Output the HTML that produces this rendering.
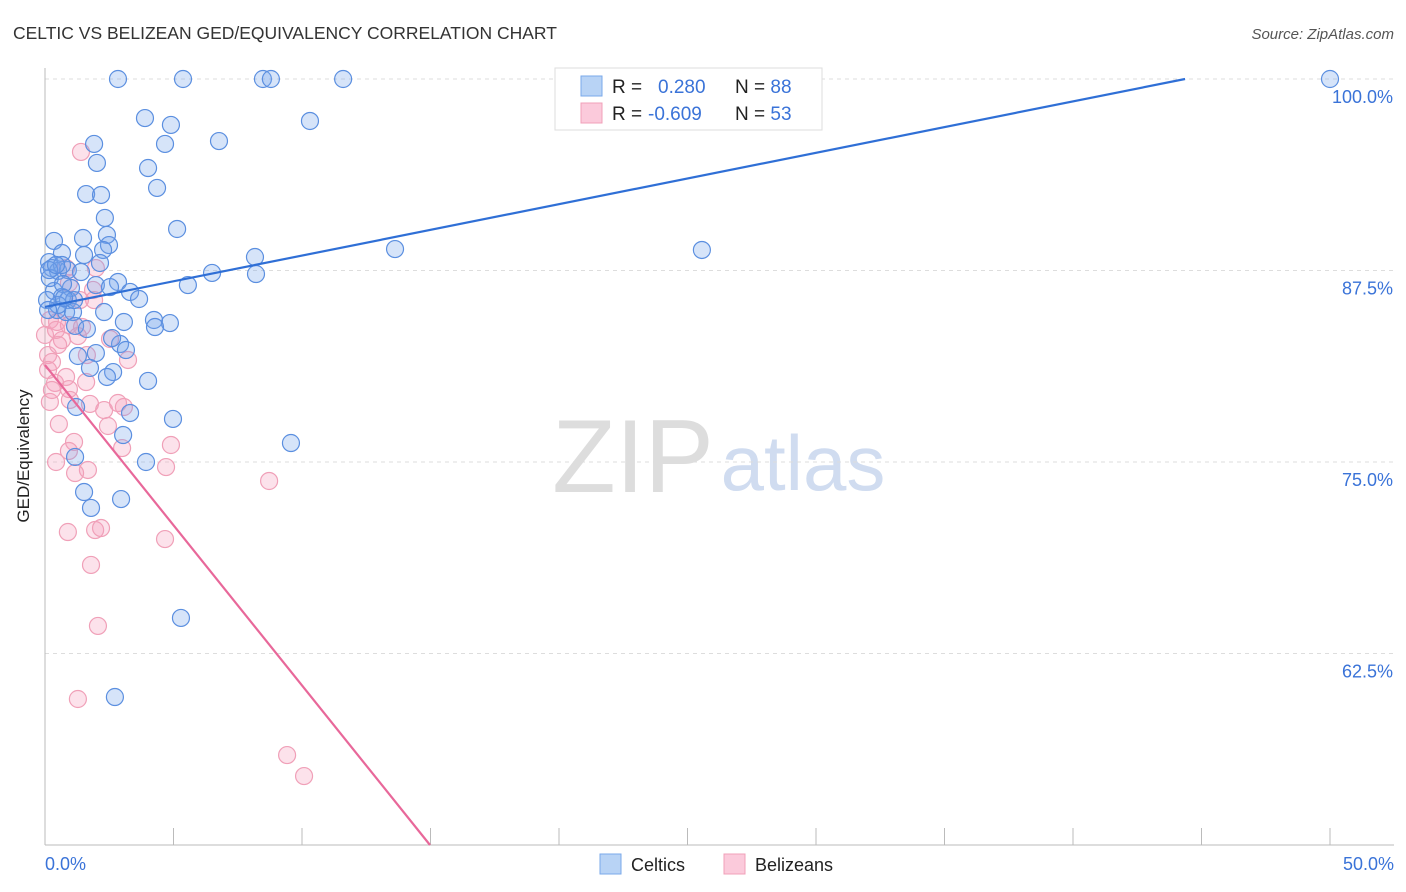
<!DOCTYPE html>
<html><head><meta charset="utf-8">
<style>
body{margin:0;background:#fff;font-family:"Liberation Sans",sans-serif;}
#wrap{position:relative;width:1406px;height:892px;overflow:hidden;}
svg text{font-family:"Liberation Sans",sans-serif;}
</style></head>
<body>
<div id="wrap">
<svg id="chart" width="1406" height="892">
  <text x="13" y="39" font-size="17.5" fill="#333">CELTIC VS BELIZEAN GED/EQUIVALENCY CORRELATION CHART</text>
  <text x="1394" y="39" font-size="15" fill="#555" font-style="italic" text-anchor="end">Source: ZipAtlas.com</text>
  <g>
    <text x="633" y="492" font-size="104" fill="#ddd" font-family="Liberation Serif" text-anchor="middle">ZIP</text>
    <text x="803" y="490" font-size="78" fill="#d0dcf0" text-anchor="middle">atlas</text>
  </g>
  <g id="grid"></g>
  <g id="axes"></g>
  <g id="points"></g>
  <g id="lines"></g>
  <text x="29" y="456" font-size="17" fill="#222" text-anchor="middle" transform="rotate(-90 29 456)">GED/Equivalency</text>
  <text x="45" y="870" font-size="18" fill="#3a73d8">0.0%</text>
  <text x="1394" y="870" font-size="18" fill="#3a73d8" text-anchor="end">50.0%</text>
  <g>
    <rect x="555" y="68" width="267" height="62" fill="#fff" stroke="#ddd"/>
    <rect x="581" y="76" width="21" height="20" fill="#b8d3f5" stroke="#7aa8ea"/>
    <rect x="581" y="103" width="21" height="20" fill="#fbcadb" stroke="#f0a0b8"/>
    <text x="612" y="93" font-size="19" fill="#222">R = <tspan x="658" fill="#3a73d8">0.280</tspan><tspan x="735" fill="#222">N = </tspan><tspan fill="#3a73d8">88</tspan></text>
    <text x="612" y="120" font-size="19" fill="#222">R = <tspan x="648" fill="#3a73d8">-0.609</tspan><tspan x="735" fill="#222">N = </tspan><tspan fill="#3a73d8">53</tspan></text>
  </g>
  <g>
    <rect x="600" y="854" width="21" height="20" fill="#b8d3f5" stroke="#7aa8ea"/>
    <text x="631" y="871" font-size="18" fill="#222">Celtics</text>
    <rect x="724" y="854" width="21" height="20" fill="#fbcadb" stroke="#f0a0b8"/>
    <text x="755" y="871" font-size="18" fill="#222">Belizeans</text>
  </g>
</svg>
</div>
<script>
const yTicks = [100, 87.5, 75, 62.5];
const yTickLabels = ["100.0%", "87.5%", "75.0%", "62.5%"];
const xTickValues = [0,5,10,15,20,25,30,35,40,45,50];
const celticsX = [2.84,5.37,8.48,8.79,11.6,50,3.89,4.90,10.31,1.91,4.67,6.77,2.02,4.01,4.36,1.60,2.18,2.33,5.14,0.35,1.48,2.41,2.49,2.26,0.66,1.52,13.62,25.56,8.17,0.16,0.27,2.14,0.51,0.89,1.40,6.50,8.21,2.84,1.98,2.53,5.56,0.35,1.01,3.31,0.66,0.89,3.66,0.47,0.82,1.09,2.30,3.07,4.24,4.86,4.28,1.17,1.63,2.92,3.15,1.28,1.98,2.61,2.65,1.75,2.41,4.01,1.21,3.31,4.98,3.04,9.57,3.93,1.17,1.52,2.96,1.79,5.29,2.72,0.19,0.66,1.13,0.70,0.51,0.08,0.16,0.43,0.74,0.12];
const celticsY = [100,100,100,100,100,100,97.45,97.0,97.26,95.76,95.76,95.95,94.52,94.19,92.89,92.49,92.43,90.93,90.21,89.43,89.62,89.82,89.16,88.84,88.64,88.51,88.90,88.84,88.38,88.05,87.66,87.99,87.47,87.53,87.40,87.34,87.27,86.75,86.55,86.42,86.55,86.16,86.36,86.10,85.77,85.57,85.64,84.92,84.79,84.79,84.79,84.14,84.27,84.07,83.81,83.88,83.68,82.70,82.31,81.92,82.11,83.09,80.87,81.14,80.55,80.29,78.59,78.20,77.81,76.76,76.24,75.0,75.33,73.04,72.58,72.0,64.82,59.66,87.01,87.86,85.57,86.62,85.25,85.57,87.53,87.86,85.70,84.92];
const belizeansX = [1.40,0.82,0.93,1.87,1.91,0.19,0.47,0.93,1.44,1.28,2.53,3.23,0.12,0.27,0.39,0.82,0.93,1.60,0.19,0.54,1.75,2.30,2.84,3.07,2.45,3.00,1.13,0.93,4.90,1.67,1.17,0.43,4.71,8.72,0.89,1.95,2.18,4.67,1.79,2.06,1.28,9.42,10.08,0,0.12,1.36,0.66,1.63,0.43,0.97,0.27,1.98,0.51];
const belizeansY = [95.24,87.66,86.68,86.23,85.57,84.27,84.14,83.94,83.81,83.22,83.03,81.66,81.98,81.53,80.16,80.55,79.76,80.22,78.92,77.48,78.79,78.39,78.85,78.59,77.35,75.91,76.31,75.72,76.11,74.48,74.28,75.0,74.67,73.76,70.43,70.56,70.69,69.97,68.28,64.30,59.53,55.87,54.50,83.29,81.01,85.57,82.96,81.98,83.62,79.05,79.70,87.66,82.64];
const celticsTrend = [0, 85.12, 44.36, 100];
const belizeansTrend = [0, 81.33, 14.98, 50];

const NS = "http://www.w3.org/2000/svg";
const X0 = 45, X1 = 1330, Y100 = 79, PXPER = 191.5 / 12.5;
function xs(v){ return X0 + (v/50)*(X1-X0); }
function ys(v){ return Y100 + (100 - v) * PXPER; }
function mk(tag, attrs, parent){ const e = document.createElementNS(NS, tag); for (const k in attrs) e.setAttribute(k, attrs[k]); parent.appendChild(e); return e; }

const grid = document.getElementById('grid');
yTicks.forEach((t, i) => {
  const l = mk('line', {x1:45, x2:1394, y1:ys(t), y2:ys(t), stroke:'#ddd', 'stroke-dasharray':'4,4'}, grid);
  
  
  const tx = mk('text', {x:1393, y:ys(t)+24, 'font-size':18, fill:'#3a73d8', 'text-anchor':'end'}, grid);
  tx.textContent = yTickLabels[i];
  
  
});
const axes = document.getElementById('axes');
const ya = mk('line', {x1:45, x2:45, y1:68, y2:845, stroke:'#bbb'}, axes);


const xa = mk('line', {x1:45, x2:1394, y1:845, y2:845, stroke:'#bbb'}, axes);


xTickValues.forEach(v => {
  const t = mk('line', {x1:xs(v), x2:xs(v), y1:828, y2:845, stroke:'#bbb'}, axes);
  
  
});

const pts = document.getElementById('points');
belizeansX.forEach((x, i) => {
  const c = mk('circle', {cx:xs(x), cy:ys(belizeansY[i]), r:8.5, fill:'rgba(244,160,190,0.3)', stroke:'#f0a0b8', 'stroke-width':1.2}, pts);
  
  
});
celticsX.forEach((x, i) => {
  const c = mk('circle', {cx:xs(x), cy:ys(celticsY[i]), r:8.5, fill:'rgba(120,165,235,0.3)', stroke:'#5b8fe0', 'stroke-width':1.2}, pts);
  
  
});

const lines = document.getElementById('lines');
const l1 = mk('line', {x1:xs(celticsTrend[0]), y1:ys(celticsTrend[1]), x2:xs(celticsTrend[2]), y2:ys(celticsTrend[3]), stroke:'#2f6fd6', 'stroke-width':2.2}, lines);


const l2 = mk('line', {x1:xs(belizeansTrend[0]), y1:ys(belizeansTrend[1]), x2:xs(belizeansTrend[2]), y2:ys(belizeansTrend[3]), stroke:'#e8689a', 'stroke-width':2.2}, lines);


</script>
</body></html>
